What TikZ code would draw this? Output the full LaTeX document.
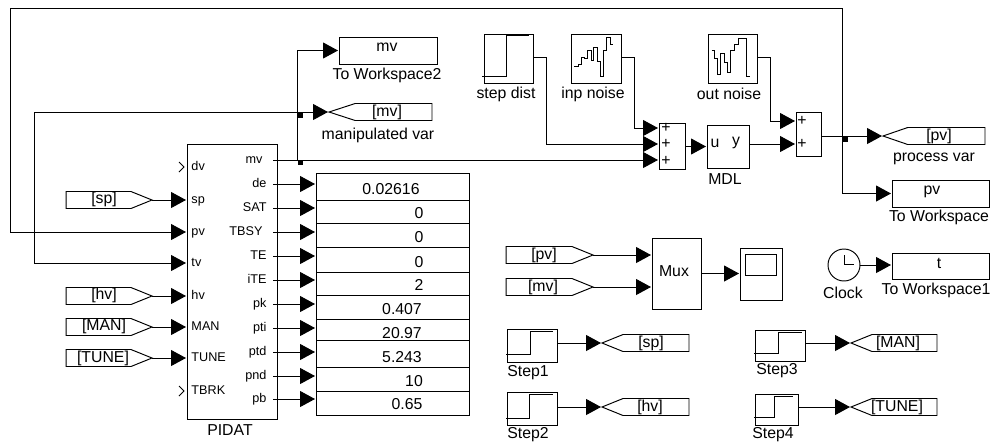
\documentclass[tikz,border=0pt]{standalone}
\usepackage{fontspec}
\setmainfont{Liberation Sans}
\usetikzlibrary{arrows.meta, fit, shapes.symbols}
\tikzset{
  block/.style={draw, inner sep=0pt, outer sep=0pt},
  tag/.style={draw, shape=signal, signal from=nowhere, signal pointer angle=44, inner sep=0pt, outer sep=0pt, minimum height=0.34cm},
  flow/.style={-{Triangle[length=0.3cm, width=0.32cm]}, shorten >=0.02cm},
  lab/.style={font=\fontsize{9}{10}\selectfont, inner sep=0pt},
  inport/.style={font=\fontsize{7.2}{8}\selectfont, anchor=west, inner xsep=0.08cm, inner ysep=0pt, text height=0.2cm, text depth=0.08cm},
  outport/.style={font=\fontsize{7.2}{8}\selectfont, anchor=east, inner xsep=0.12cm, inner ysep=0pt, text height=0.2cm, text depth=0.08cm},
  junction/.style={fill=black, inner sep=0pt, minimum size=0.1cm}
}
\begin{document}
\begin{tikzpicture}[x=0.02cm, y=-0.02cm, line width=0.55pt]
\useasboundingbox (0,0) rectangle (991,441);
\node (pidat) [block, fit={(187,144) (277,419)}] {};
\node (pidatname) at (230,430) [lab] {PIDAT};
\node (dv) at (187,167) [inport] {dv};
\node (sp) at (187,200) [inport] {sp};
\node (pv) at (187,232) [inport] {pv};
\node (tv) at (187,263) [inport] {tv};
\node (hv) at (187,296) [inport] {hv};
\node (man) at (187,327) [inport] {MAN};
\node (tune) at (187,358) [inport] {TUNE};
\node (tbrk) at (187,391) [inport] {TBRK};
\node (mv) at (273,160) [outport, inner xsep=0.2cm] {mv};
\node (de) at (273,184) [outport] {de};
\node (sat) at (273,208) [outport] {SAT};
\node (tbsy) at (273,232) [outport, inner xsep=0.2cm] {TBSY};
\node (te) at (273,256) [outport] {TE};
\node (ite) at (273,280) [outport] {iTE};
\node (pk) at (273,304) [outport] {pk};
\node (pti) at (273,328) [outport] {pti};
\node (ptd) at (273,352) [outport] {ptd};
\node (pnd) at (273,376) [outport] {pnd};
\node (pb) at (273,399) [outport] {pb};
\draw (179,162) -- (184,167) -- (179,172);
\draw (179,386) -- (184,391) -- (179,396);
\node (disp1) [block, fit={(316,173) (469,200)}] {};
\node (disp2) [block, fit={(316,200) (469,223)}] {};
\node (disp3) [block, fit={(316,223) (469,247)}] {};
\node (disp4) [block, fit={(316,247) (469,272)}] {};
\node (disp5) [block, fit={(316,272) (469,295)}] {};
\node (disp6) [block, fit={(316,295) (469,319)}] {};
\node (disp7) [block, fit={(316,319) (469,340)}] {};
\node (disp8) [block, fit={(316,340) (469,367)}] {};
\node (disp9) [block, fit={(316,367) (469,391)}] {};
\node (disp10) [block, fit={(316,391) (469,415)}] {};
\node (val1) at (391,189) [lab] {0.02616};
\node (val2) at (419,213) [lab] {0};
\node (val3) at (419,237) [lab] {0};
\node (val4) at (419,262) [lab] {0};
\node (val5) at (419,285) [lab] {2};
\node (val6) at (402,309) [lab] {0.407};
\node (val7) at (402,333) [lab] {20.97};
\node (val8) at (402,357) [lab] {5.243};
\node (val9) at (414,381) [lab] {10};
\node (val10) at (407,404) [lab] {0.65};
\draw [flow] (de.east) -- (de.east -| disp1.west);
\draw [flow] (sat.east) -- (sat.east -| disp2.west);
\draw [flow] (tbsy.east) -- (tbsy.east -| disp3.west);
\draw [flow] (te.east) -- (te.east -| disp4.west);
\draw [flow] (ite.east) -- (ite.east -| disp5.west);
\draw [flow] (pk.east) -- (pk.east -| disp6.west);
\draw [flow] (pti.east) -- (pti.east -| disp7.west);
\draw [flow] (ptd.east) -- (ptd.east -| disp8.west);
\draw [flow] (pnd.east) -- (pnd.east -| disp9.west);
\draw [flow] (pb.east) -- (pb.east -| disp10.west);
\node (fromsp) at (152,200) [tag, signal to=east, anchor=east, minimum width=1.72cm] {};
\node at (104,199) [lab] {[sp]};
\node (fromhv) at (152,296) [tag, signal to=east, anchor=east, minimum width=1.72cm] {};
\node at (104,295) [lab] {[hv]};
\node (fromman) at (152,327) [tag, signal to=east, anchor=east, minimum width=1.72cm] {};
\node at (104,326) [lab] {[MAN]};
\node (fromtune) at (152,358) [tag, signal to=east, anchor=east, minimum width=1.72cm] {};
\node at (103,358) [lab] {[TUNE]};
\draw [flow] (fromsp.east) -- (sp.west);
\draw [flow] (fromhv.east) -- (hv.west);
\draw [flow] (fromman.east) -- (man.west);
\draw [flow] (fromtune.east) -- (tune.west);
\node (wsmv) [block, fit={(339,37) (437,64)}] {};
\node at (387,47) [lab] {mv};
\node at (387,75) [lab] {To Workspace2};
\node (gotomv) at (329,112) [tag, signal to=west, anchor=west, signal pointer angle=36, minimum width=2.06cm] {};
\node at (387,112) [lab] {[mv]};
\node at (378,135) [lab] {manipulated var};
\coordinate (mvup) at (297,160);
\coordinate (tvleft) at (34,112);
\node (jmv) at (300,162) [junction] {};
\node (jtv) at (300,115) [junction] {};
\draw [flow] (mvup) |- (wsmv.west);
\draw [flow] (tvleft) -- (gotomv.west);
\draw [flow] (tvleft) |- (tv.west);
\node (stepdist) [block, fit={(484,34) (533,83)}] {};
\draw (482,76) -- (506,76) -- (506,35) -- (529,35);
\node at (506,94) [lab] {step dist};
\node (inpnoise) [block, fit={(571,34) (621,83)}] {};
\draw (574.3,66.3) -- (578.3,66.3) -- (578.3,64) -- (581,64) -- (581,57.3) -- (584.3,57.3) -- (584.3,58.7) -- (587.7,58.7) -- (587.7,50.7) -- (591,50.7) -- (591,60.3) -- (593,60.3) -- (593,47.3) -- (597,47.3) -- (597,61.3) -- (600.3,61.3) -- (600.3,76.3) -- (603.7,76.3) -- (603.7,50.7) -- (606.3,50.7) -- (606.3,37.3) -- (610,37.3) -- (610,44.7) -- (613.3,44.7);
\node at (593,94) [lab] {inp noise};
\node (outnoise) [block, fit={(708,34) (757,83)}] {};
\draw (711.7,50.7) -- (714,50.7) -- (714,58) -- (717.3,58) -- (717.3,74) -- (720.7,74) -- (720.7,53) -- (724.3,53) -- (724.3,62) -- (727.3,62) -- (727.3,72.3) -- (730.7,72.3) -- (730.7,50.7) -- (734.3,50.7) -- (734.3,44) -- (738.3,44) -- (738.3,38) -- (746.7,38) -- (746.7,76.3) -- (750,76.3);
\node at (729,94) [lab] {out noise};
\node (sumone) [block, fit={(659,123) (685,169)}] {};
\node (plusa) at (666,128) [lab] {+};
\node (plusb) at (666,144) [lab] {+};
\node (plusc) at (666,161) [lab] {+};
\node (mdl) [block, fit={(707,125) (749,168)}] {};
\node (mdlu) at (715,143) [lab] {u};
\node (mdly) at (736,143) [lab] {y};
\node at (725,179) [lab] {MDL};
\node (sumtwo) [block, fit={(796,112) (821,156)}] {};
\node (plusd) at (802,121) [lab] {+};
\node (pluse) at (802,144) [lab] {+};
\draw [flow] ([yshift=0.03cm]stepdist.east) -- ++(13,0) |- (sumone.west |- plusb);
\draw [flow] ([yshift=0.03cm]inpnoise.east) -- ++(13,0) |- (sumone.west |- plusa);
\draw [flow] (mv.east) -- (sumone.west |- mv.east);
\draw [flow] (sumone.east |- mdl.west) -- (mdl.west);
\draw [flow] (mdl.east |- pluse) -- (sumtwo.west |- pluse);
\draw [flow] ([yshift=0.03cm]outnoise.east) -- ++(13,0) |- (sumtwo.west |- plusd);
\coordinate (pvsplit) at (842,136);
\coordinate (pvtop) at (10,8);
\node (gotopv) at (883,136) [tag, signal to=west, anchor=west, signal pointer angle=38, minimum width=2.04cm] {};
\node at (939,136) [lab] {[pv]};
\node at (934,159) [lab] {process var};
\node (wspv) [block, fit={(892,180) (989,207)}] {};
\node at (932,192) [lab] {pv};
\node at (939,217) [lab] {To Workspace};
\node (jpv) at (845,139) [junction] {};
\draw [flow] (sumtwo.east |- pvsplit) -- (gotopv.west);
\draw [flow] (pvsplit) |- (wspv.west);
\draw [flow] (pvsplit) |- (pvtop) |- (pv.west);
\node (frompv) at (593,255) [tag, signal to=east, anchor=east, minimum width=1.74cm] {};
\node at (544,255) [lab] {[pv]};
\node (frommv) at (593,287) [tag, signal to=east, anchor=east, minimum width=1.74cm] {};
\node at (543,287) [lab] {[mv]};
\node (mux) [block, fit={(652,238) (701,309)}] {};
\node at (674,271) [lab] {Mux};
\node (scope) [block, fit={(740,248) (782,300)}] {};
\node (screen) [block, fit={(745,254) (776,275)}] {};
\draw [flow] (frompv.east) -- (frompv.east -| mux.west);
\draw [flow] (frommv.east) -- (frommv.east -| mux.west);
\draw [flow] (mux.east) -- (mux.east -| scope.west);
\node (clock) at (844,265) [draw, circle, inner sep=0pt, outer sep=0pt, minimum size=0.64cm] {};
\draw (844,255) -- (844,264) -- (854,264);
\node at (843,293) [lab] {Clock};
\node (wst) [block, fit={(892,253) (989,279)}] {};
\node at (939,263) [lab] {t};
\node at (936,290) [lab] {To Workspace1};
\draw [flow] (clock.east) -- (clock.east -| wst.west);
\node (stepa) [block, fit={(507,329) (557,362)}] {};
\draw (506,354) -- (530,354) -- (530,331) -- (553,331);
\node at (528,373) [lab] {Step1};
\node (gotosp) at (602,343) [tag, signal to=west, anchor=west, minimum width=1.74cm] {};
\node at (651,343) [lab] {[sp]};
\draw [flow] (stepa.east |- gotosp.west) -- (gotosp.west);
\node (stepb) [block, fit={(507,392) (557,425)}] {};
\draw (506,418) -- (529,418) -- (529,394) -- (553,394);
\node at (528,435) [lab] {Step2};
\node (gotohv) at (602,407) [tag, signal to=west, anchor=west, minimum width=1.74cm] {};
\node at (650,407) [lab] {[hv]};
\draw [flow] (stepb.east |- gotohv.west) -- (gotohv.west);
\node (stepc) [block, fit={(755,330) (805,361)}] {};
\draw (754,353) -- (778,353) -- (778,332) -- (802,332);
\node at (777,371) [lab] {Step3};
\node (gotoman) at (851,343) [tag, signal to=west, anchor=west, minimum width=1.72cm] {};
\node at (898,343) [lab] {[MAN]};
\draw [flow] (stepc.east |- gotoman.west) -- (gotoman.west);
\node (stepd) [block, fit={(755,394) (798,425)}] {};
\draw (754,417) -- (774,417) -- (774,396) -- (793,396);
\node at (773,435) [lab] {Step4};
\node (gototune) at (851,407) [tag, signal to=west, anchor=west, minimum width=1.72cm] {};
\node at (897,407) [lab] {[TUNE]};
\draw [flow] (stepd.east |- gototune.west) -- (gototune.west);
\end{tikzpicture}
\end{document}
